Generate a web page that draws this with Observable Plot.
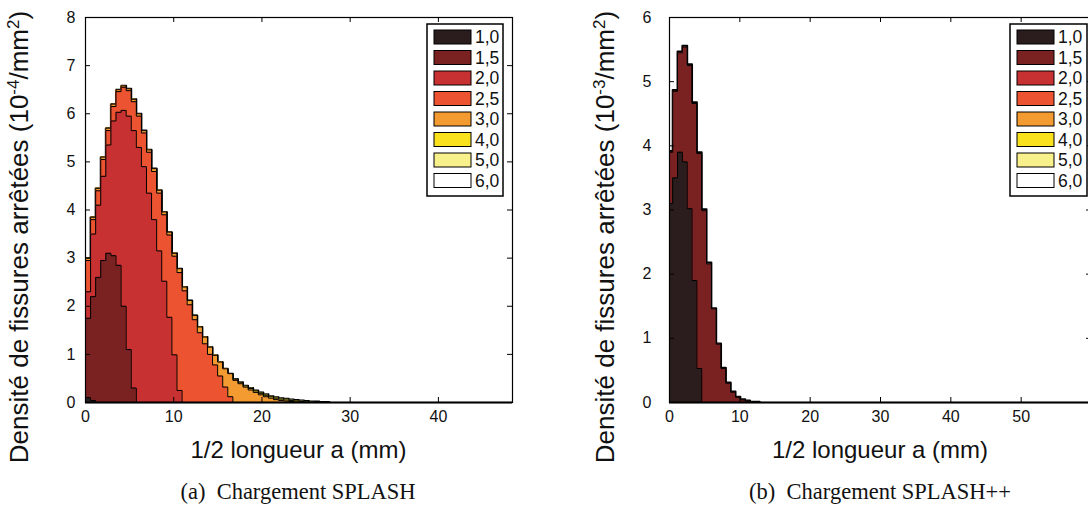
<!DOCTYPE html>
<html><head><meta charset="utf-8">
<script src="https://cdn.jsdelivr.net/npm/d3@7"></script>
<script src="https://cdn.jsdelivr.net/npm/@observablehq/plot@0.6"></script>
<style>
html,body{margin:0;padding:0;background:#fff;overflow:hidden;width:1088px;height:510px}
#wrap{position:relative;width:1088px;height:510px;overflow:hidden;background:#fff}
.chart{position:absolute;top:0}
.chart svg{max-width:none !important;height:auto}
.cap{position:absolute;font-family:"Liberation Serif","Times New Roman",serif;font-size:22.5px;color:#111;white-space:nowrap;transform:translateX(-50%)}
</style></head><body>
<div id="wrap">
  <div id="chartA" class="chart" style="left:0px;width:530px"></div>
  <div id="chartB" class="chart" style="left:560px;width:540px"></div>
  <div id="capA" class="cap" style="left:298px;top:479px"></div>
  <div id="capB" class="cap" style="left:880px;top:479px"></div>
</div>
<script>
// ---------- data ----------
const loads = ["1,0","1,5","2,0","2,5","3,0","4,0","5,0","6,0"];
const colors = ["#2b1d1e","#7a2222","#c83131","#ec5330","#f39b30","#f9e11e","#f8f08a","#ffffff"];

const xTicksA = [0,10,20,30,40];
const yTicksA = [0,1,2,3,4,5,6,7,8];
const xTicksB = [0,10,20,30,40,50];
const yTicksB = [0,1,2,3,4,5,6];

const xDomainA = [0, 48.4];
const yDomainA = [0, 8];
const xDomainB = [0, 60];
const yDomainB = [0, 6];

// histogram bins (mm)
const binStartA = 0, binWidthA = 0.576;
const binStartB = -0.23, binWidthB = 0.687;

// Chart (a) SPLASH : density (1e-4 / mm2) per bin
const a10 = [0.10, 0.04];
const a15 = [1.75, 2.2, 2.6, 2.95, 3.1, 3.05, 2.85, 2.0, 1.1, 0.3];
const a20 = [2.3, 3.5, 4.1, 4.7, 5.35, 5.85, 6.03, 6.07, 5.95, 5.65, 5.3, 4.9, 4.35, 3.8, 3.15, 2.52, 1.77, 0.99, 0.25];
const a25 = [2.95, 3.8, 4.4, 5.05, 5.65, 6.15, 6.46, 6.55, 6.48, 6.25, 5.95, 5.6, 5.2, 4.8, 4.35, 3.9, 3.48, 3.04, 2.7, 2.32, 2.03, 1.72, 1.45, 1.22, 1.0, 0.78, 0.55, 0.32, 0.12];
const a30 = [3.0, 3.85, 4.45, 5.1, 5.7, 6.2, 6.5, 6.58, 6.52, 6.3, 6.0, 5.65, 5.25, 4.86, 4.41, 3.96, 3.54, 3.1, 2.78, 2.40, 2.12, 1.81, 1.57, 1.36, 1.15, 0.98, 0.84, 0.70, 0.60, 0.46, 0.39, 0.32, 0.26, 0.21, 0.16, 0.12, 0.09, 0.06, 0.04, 0.03, 0.02, 0.01];
const a40 = [3.0, 3.85, 4.45, 5.1, 5.7, 6.2, 6.5, 6.58, 6.52, 6.3, 6.0, 5.65, 5.25, 4.86, 4.41, 3.96, 3.54, 3.1, 2.78, 2.40, 2.12, 1.81, 1.57, 1.36, 1.15, 0.98, 0.84, 0.70, 0.60, 0.48, 0.41, 0.34, 0.29, 0.24, 0.19, 0.15, 0.12, 0.09, 0.07, 0.05, 0.04, 0.03, 0.02, 0.01];
const a50 = [3.0, 3.85, 4.45, 5.1, 5.7, 6.2, 6.5, 6.58, 6.52, 6.3, 6.0, 5.65, 5.25, 4.86, 4.41, 3.96, 3.54, 3.1, 2.78, 2.40, 2.12, 1.81, 1.57, 1.36, 1.15, 0.98, 0.84, 0.70, 0.60, 0.49, 0.42, 0.35, 0.30, 0.25, 0.21, 0.17, 0.13, 0.11, 0.09, 0.07, 0.05, 0.04, 0.03, 0.02, 0.01];
const a60 = [3.0, 3.85, 4.45, 5.1, 5.7, 6.2, 6.5, 6.58, 6.52, 6.3, 6.0, 5.65, 5.25, 4.86, 4.41, 3.96, 3.54, 3.1, 2.78, 2.40, 2.12, 1.81, 1.57, 1.36, 1.15, 0.98, 0.84, 0.70, 0.60, 0.49, 0.42, 0.35, 0.30, 0.25, 0.21, 0.17, 0.13, 0.11, 0.09, 0.08, 0.06, 0.05, 0.04, 0.03, 0.02, 0.02, 0.01, 0.01];

// Chart (b) SPLASH++ : density (1e-3 / mm2) per bin
const b10 = [3.1, 3.5, 3.9, 3.75, 3.02, 1.90, 0.53];
const b15 = [3.9, 4.85, 5.45, 5.54, 5.25, 4.66, 3.88, 2.99, 2.16, 1.46, 0.91, 0.53, 0.30, 0.16, 0.08, 0.04, 0.02];
const b60 = [3.92, 4.87, 5.47, 5.56, 5.27, 4.68, 3.90, 3.01, 2.18, 1.47, 0.92, 0.54, 0.31, 0.17, 0.09, 0.05, 0.03, 0.01, 0.01];

const xTitle = "1/2 longueur a (mm)";
const yTitleMain = "Densité de fissures arrêtées (10";
const yExpA = "-4", yExpB = "-3";
const captionA = "(a)\u00a0 Chargement SPLASH";
const captionB = "(b)\u00a0 Chargement SPLASH++";

// ---------- drawing ----------
const FONT = "'Liberation Sans', Arial, Helvetica, sans-serif";

function seriesMarks(start, width, vals, color, sw) {
  const n = vals.length;
  const edges = d3.range(n + 1).map(k => start + k * width);
  const areaPts = vals.map((v, i) => ({x: edges[i], y: v})).concat([{x: edges[n], y: vals[n - 1]}]);
  const linePts = [{x: edges[0], y: 0}].concat(vals.map((v, i) => ({x: edges[i], y: v})), [{x: edges[n], y: 0}]);
  return [
    Plot.areaY(areaPts, {x: "x", y: "y", curve: "step-after", fill: color, clip: true}),
    Plot.lineY(linePts, {x: "x", y: "y", curve: "step-after", stroke: "#000", strokeWidth: sw, clip: true})
  ];
}

function buildChart(cfg) {
  const W = cfg.width, H = 470, mT = 17, mB = 68;
  const plotH = H - mT - mB;
  const plotW = W - cfg.mL - cfg.mR;
  const tick = 5;
  const marks = [];
  cfg.series.forEach(s => marks.push(...seriesMarks(cfg.start, cfg.binW, s.vals, s.color, s.sw)));
  marks.push(
    Plot.frame({stroke: "#000", strokeWidth: 1.2}),
    Plot.ruleY([0], {stroke: "#000", strokeWidth: 2}),
    Plot.ruleX(cfg.xTicks, {stroke: "#000", strokeWidth: 1, insetTop: plotH - tick}),
    Plot.ruleX(cfg.xTicks, {stroke: "#000", strokeWidth: 1, insetBottom: plotH - tick}),
    Plot.ruleY(cfg.yTicks, {stroke: "#000", strokeWidth: 1, insetRight: plotW - tick}),
    Plot.ruleY(cfg.yTicks, {stroke: "#000", strokeWidth: 1, insetLeft: plotW - tick}),
    Plot.axisX(cfg.xTicks, {tickSize: 0, tickPadding: 8, fontSize: 16, label: null, tickFormat: d => String(d)}),
    Plot.axisY(cfg.yTicks, {tickSize: 0, tickPadding: cfg.yPad, fontSize: 16, label: null, tickFormat: d => String(d)})
  );
  const svgEl = Plot.plot({
    width: W, height: H,
    marginLeft: cfg.mL, marginRight: cfg.mR, marginTop: mT, marginBottom: mB,
    x: {domain: cfg.xDomain},
    y: {domain: cfg.yDomain},
    style: {fontFamily: FONT, fontSize: "16px", color: "#111", background: "transparent", overflow: "visible", maxWidth: "none"},
    marks
  });
  svgEl.setAttribute("width", W);
  svgEl.setAttribute("height", H);
  const svg = d3.select(svgEl);
  // x title
  svg.append("text").attr("x", cfg.mL + plotW / 2).attr("y", 458)
    .attr("text-anchor", "middle").attr("font-family", FONT).attr("font-size", 24).attr("fill", "#111")
    .text(xTitle);
  // y title with superscripts
  const yt = svg.append("text")
    .attr("transform", `translate(${cfg.yTitleX},237) rotate(-90)`)
    .attr("text-anchor", "middle").attr("font-family", FONT).attr("font-size", 26).attr("fill", "#111");
  yt.append("tspan").text(yTitleMain);
  yt.append("tspan").attr("font-size", 17).attr("dy", -9).text(cfg.yExp);
  yt.append("tspan").attr("dy", 9).text("/mm");
  yt.append("tspan").attr("font-size", 17).attr("dy", -9).text("2");
  yt.append("tspan").attr("dy", 9).text(")");
  // legend
  const lg = svg.append("g").attr("transform", `translate(${cfg.legX},24)`);
  lg.append("rect").attr("x", 0).attr("y", 0).attr("width", cfg.legW).attr("height", 172)
    .attr("fill", "#fff").attr("stroke", "#000").attr("stroke-width", 1.5);
  loads.forEach((l, i) => {
    lg.append("rect").attr("x", 7).attr("y", 6 + i * 20.5).attr("width", 37).attr("height", 14)
      .attr("fill", colors[i]).attr("stroke", "#000").attr("stroke-width", 1);
    lg.append("text").attr("x", 48).attr("y", 13 + i * 20.5).attr("dy", "0.36em")
      .attr("text-anchor", "start")
      .attr("font-family", FONT).attr("font-size", 17.5).attr("fill", "#111").text(l);
  });
  return svgEl;
}

document.getElementById("chartA").appendChild(buildChart({
  width: 530, mL: 85, mR: 18, xDomain: xDomainA, yDomain: yDomainA,
  xTicks: xTicksA, yTicks: yTicksA, start: binStartA, binW: binWidthA, yPad: 10,
  yTitleX: 28, yExp: yExpA, legX: 427, legW: 76,
  series: [
    {vals: a60, color: colors[7], sw: 2},
    {vals: a50, color: colors[6], sw: 1},
    {vals: a40, color: colors[5], sw: 1},
    {vals: a30, color: colors[4], sw: 1},
    {vals: a25, color: colors[3], sw: 1},
    {vals: a20, color: colors[2], sw: 1},
    {vals: a15, color: colors[1], sw: 1},
    {vals: a10, color: colors[0], sw: 1}
  ]
}));

document.getElementById("chartB").appendChild(buildChart({
  width: 540, mL: 109, mR: 9, xDomain: xDomainB, yDomain: yDomainB,
  xTicks: xTicksB, yTicks: yTicksB, start: binStartB, binW: binWidthB, yPad: 18,
  yTitleX: 54, yExp: yExpB, legX: 450, legW: 77,
  series: [
    {vals: b60, color: colors[7], sw: 2},
    {vals: b15, color: colors[1], sw: 1},
    {vals: b10, color: colors[0], sw: 1}
  ]
}));

document.getElementById("capA").textContent = captionA;
document.getElementById("capB").textContent = captionB;
</script>
</body></html>
